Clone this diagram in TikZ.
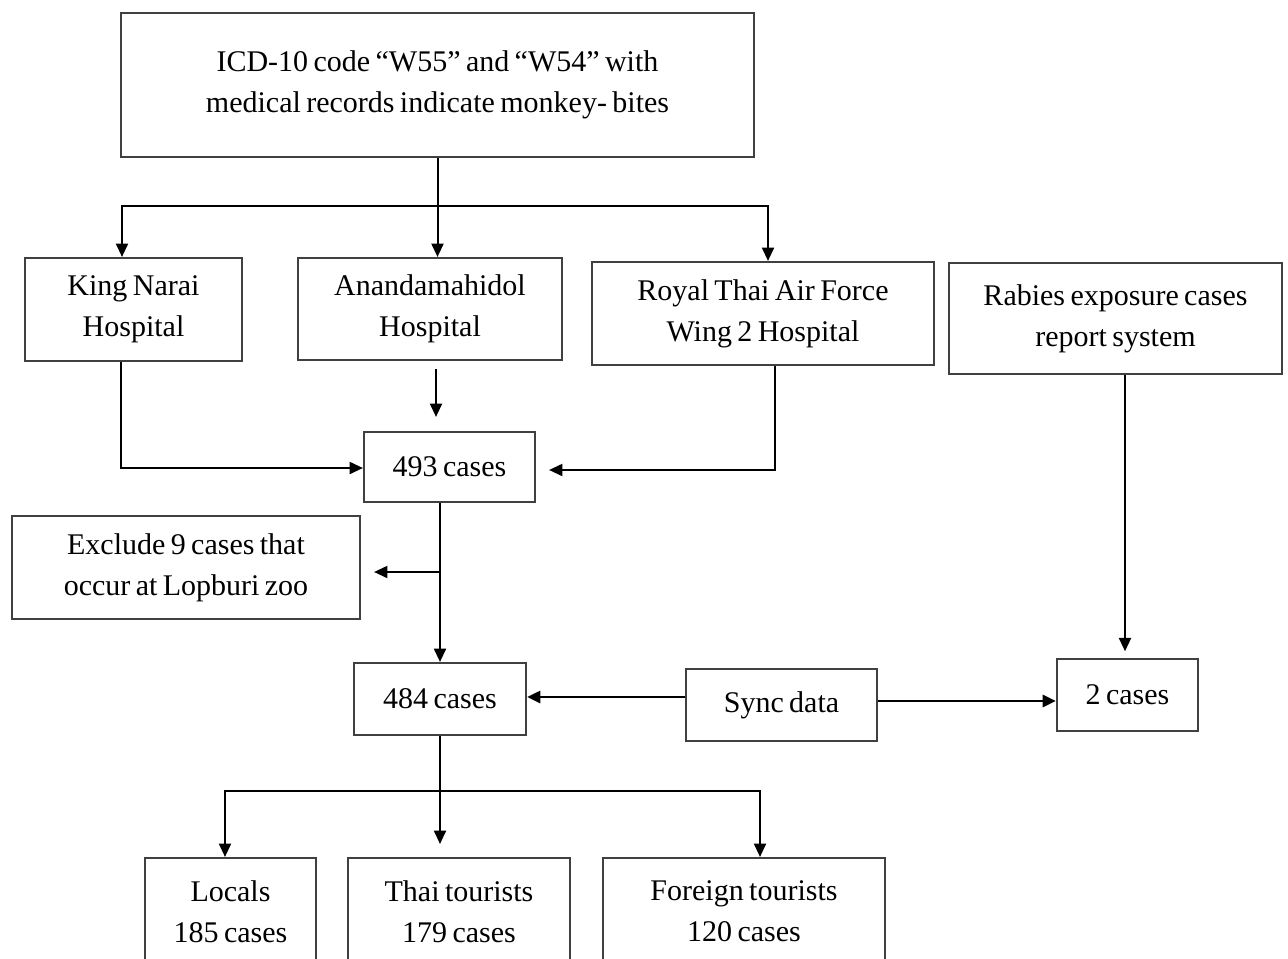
\documentclass[tikz,border=0pt]{standalone}
\usepackage{fontspec}
\setmainfont{Liberation Serif}
\usetikzlibrary{arrows.meta}
\newcommand{\boxfont}{\fontsize{22.5}{30.75}\selectfont\spaceskip 0.18em plus 0.05em\relax}
\begin{document}
\begin{tikzpicture}[x=0.75pt,y=-0.75pt,
  box/.style={draw=black!75, line width=1.6pt, inner sep=0pt, align=center,
    font=\boxfont},
  sz/.style 2 args={minimum width=#1*0.75pt, minimum height=#2*0.75pt},
  conn/.style={line width=1.5pt, black},
  arr/.style={conn, -{Triangle[length=10pt,width=9pt]}},
  thickarr/.style={arr, line width=2.2pt},
]
\clip (0,0) rectangle (1288,958);
\fill[white] (0,0) rectangle (1288,958);

\node[box, sz={633}{144}] (top) at (437.5,85) {ICD-10 code “W55” and “W54” with\\medical records indicate monkey- bites};
\node[box, sz={217}{103}] (kn) at (133.5,309.5) {King Narai\\Hospital};
\node[box, sz={264}{102}] (ana) at (430,309) {Anandamahidol\\Hospital};
\node[box, sz={342}{103}] (rtaf) at (763,313.5) {Royal Thai Air Force\\Wing 2 Hospital};
\node[box, sz={333}{111}] (rab) at (1115.5,318.5) {Rabies exposure cases\\report system};
\node[box, sz={171}{70}] (c493) at (449.5,467) {493 cases};
\node[box, sz={348}{103}] (excl) at (186,567.5) {Exclude 9 cases that\\occur at Lopburi zoo};
\node[box, sz={172}{72}] (c484) at (440,699) {484 cases};
\node[box, sz={191}{72}] (sync) at (781.5,705) {Sync data};
\node[box, sz={141}{72}] (c2) at (1127.5,695) {2 cases};
\node[box, sz={171}{107}] (loc) at (230.5,911.5) {Locals\\185 cases};
\node[box, sz={222}{107}] (thai) at (459,911.5) {Thai tourists\\179 cases};
\node[box, sz={282}{107}] (forg) at (744,911.5) {Foreign tourists\\120 cases};

\coordinate (j1) at (438,206);
\coordinate (j2) at (440,572);
\coordinate (j3) at (440,791);

% top distribution
\draw[arr] (top.south) -- (top.south |- ana.north);
\draw[arr] (j1) -| (kn.north -| 122,0);
\draw[arr] (j1) -| (rtaf.north -| 768,0);

% hospitals to 493
\draw[arr] (kn.south -| 121,0) |- (c493.west |- 0,468);
\draw[arr, shorten <=6pt, shorten >=10.5pt] (ana.south -| 436,0) -- (c493.north -| 436,0);
\draw[arr, shorten >=9.75pt] (rtaf.south -| 775,0) |- (c493.east |- 0,470);

% 493 to 484 and exclusion
\draw[arr] (c493.south -| c484.north) -- (c484.north);
\draw[arr, shorten >=9.75pt] (j2) -- (excl.east |- j2);

% sync data
\draw[thickarr] (sync.west |- 0,697) -- (c484.east |- 0,697);
\draw[thickarr] (sync.east |- 0,701) -- (c2.west |- 0,701);

% rabies to 2 cases
\draw[arr, shorten >=5pt] (rab.south -| 1125,0) -- (c2.north -| 1125,0);

% 484 to groups
\draw[conn] (c484.south) -- (j3);
\draw[arr] (j3) -| (loc.north -| 225,0);
\draw[arr] (j3) -| (forg.north -| 760,0);
\draw[arr, shorten >=9.75pt] (c484.south) -- (c484.south |- thai.north);
\end{tikzpicture}
\end{document}
